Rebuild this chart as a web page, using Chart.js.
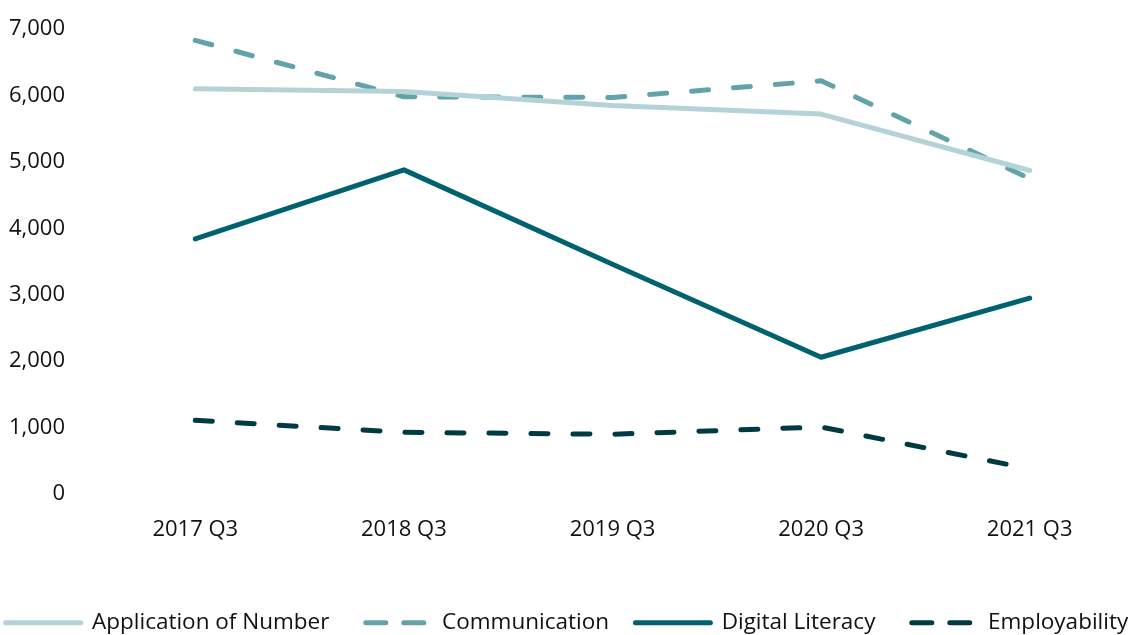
<!DOCTYPE html>
<html>
<head>
<meta charset="utf-8">
<script src="https://cdn.jsdelivr.net/npm/chart.js@4/dist/chart.umd.min.js"></script>
<style>
  html, body { margin: 0; padding: 0; background: #fff; }
  #wrap { width: 1145px; height: 635px; }
</style>
</head>
<body>
<div id="wrap"><canvas id="canvas"></canvas></div>
<script>
let quarters = ["2017 Q3", "2018 Q3", "2019 Q3", "2020 Q3", "2021 Q3"];
let applicationOfNumber = [6100, 6060, 5850, 5720, 4870];
let communication = [6830, 5980, 5970, 6220, 4750];
let digitalLiteracy = [3840, 4880, 3460, 2060, 2950];
let employability = [1110, 930, 900, 1010, 380];

let chartCanvas = document.getElementById("canvas");
let dash = [17, 25];

let lineData = {
    labels: quarters,
    datasets: [{
        label: "Application of Number",
        borderColor: "#b3d3d7",
        backgroundColor: "#b3d3d7",
        data: applicationOfNumber
    }, {
        label: "Communication",
        borderColor: "#64a2aa",
        backgroundColor: "#64a2aa",
        borderDash: dash,
        data: communication
    }, {
        label: "Digital Literacy",
        borderColor: "#00626e",
        backgroundColor: "#00626e",
        data: digitalLiteracy
    }, {
        label: "Employability",
        borderColor: "#003b43",
        backgroundColor: "#003b43",
        borderDash: dash,
        data: employability
    }]
};

Chart.defaults.font.family = "'Open Sans', sans-serif";
Chart.defaults.color = "#111";

// legend entries: line samples, a few hard spaces to widen the gaps
function legendItems(chart) {
    let n = chart.data.datasets.length;
    return chart.data.datasets.map((ds, i) => ({
        text: ds.label + (i < n - 1 ? "\u00A0\u00A0\u00A0\u00A0" : ""),
        fillStyle: ds.borderColor,
        strokeStyle: ds.borderColor,
        lineWidth: 5,
        lineCap: "round",
        lineDash: ds.borderDash ? [20, 18] : [],
        lineDashOffset: -10,
        pointStyle: "line",
        hidden: false,
        datasetIndex: i,
        fontColor: "#111"
    }));
}

let lineChart = new Chart(chartCanvas, {
    type: "line",
    data: lineData,
    options: {
        responsive: true,
        maintainAspectRatio: false,
        animation: false,
        layout: { padding: { top: 0, left: 0, right: 11, bottom: -9 } },
        elements: {
            line: { borderWidth: 5, borderCapStyle: "round", borderJoinStyle: "round", tension: 0 },
            point: { radius: 0 }
        },
        scales: {
            x: {
                offset: true,
                grid: { display: false },
                border: { display: false },
                afterFit: axis => { axis.height += 52; },
                ticks: { font: { size: 22 }, padding: 14 }
            },
            y: {
                min: 0,
                max: 7000,
                grid: { display: false },
                border: { display: false },
                afterFit: axis => { axis.width = 91; },
                ticks: {
                    stepSize: 1000,
                    font: { size: 22, lineHeight: 1 },
                    padding: 18,
                    callback: v => v.toLocaleString("en-US")
                }
            }
        },
        plugins: {
            legend: {
                position: "bottom",
                labels: {
                    usePointStyle: true,
                    pointStyleWidth: 75,
                    boxHeight: 5,
                    padding: 3,
                    font: { size: 22.5 },
                    generateLabels: legendItems
                }
            },
            tooltip: { enabled: false }
        }
    }
});
</script>
</body>
</html>
